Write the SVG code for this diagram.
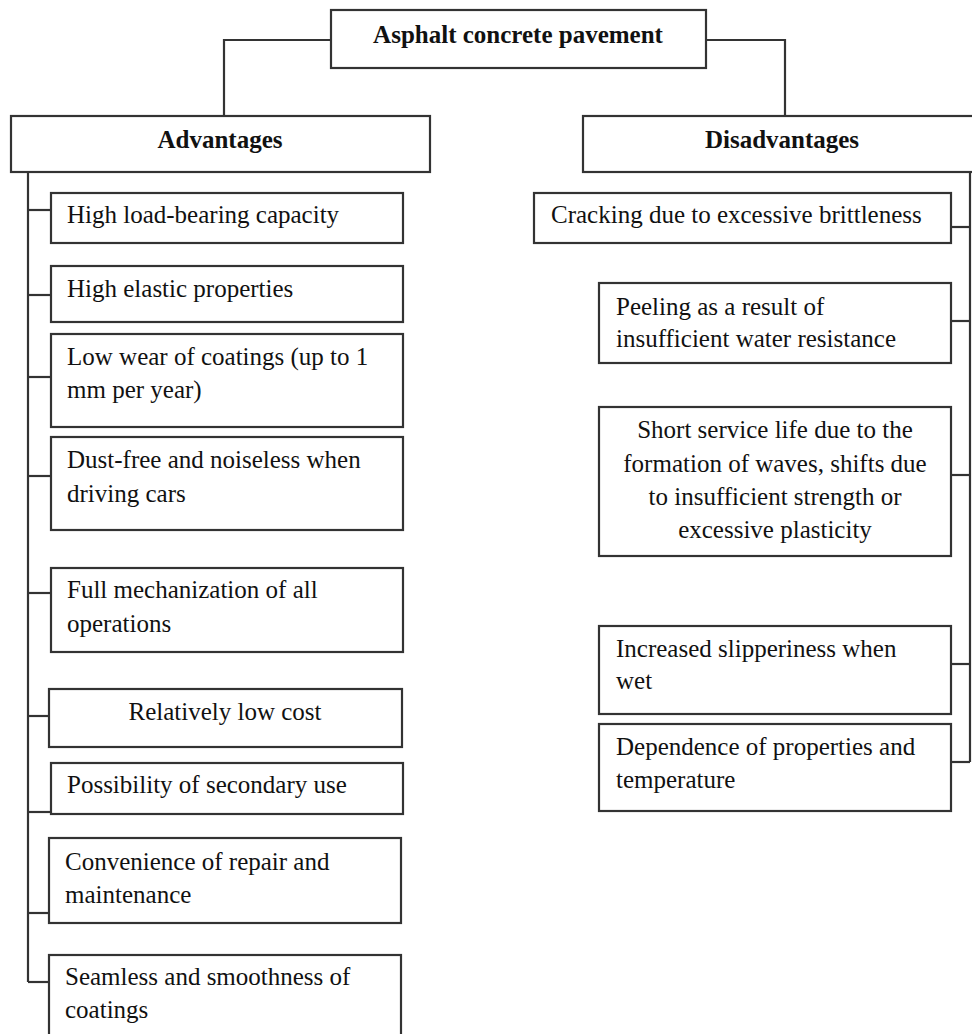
<svg xmlns="http://www.w3.org/2000/svg" width="972" height="1034" viewBox="0 0 972 1034">
<style>
.box{fill:#fff;stroke:#333;stroke-width:2.2}
.ln{fill:none;stroke:#333;stroke-width:2.2}
text{font-family:"Liberation Serif","Times New Roman",serif;font-size:25px;fill:#111}
.b{font-weight:bold}
.c{text-anchor:middle}
</style>
<rect width="972" height="1034" fill="#fff"/>
<g id="connectors">
<polyline class="ln" points="331,40 224,40 224,116"/>
<polyline class="ln" points="706,40 785,40 785,116"/>
<line class="ln" x1="28" y1="172" x2="28" y2="982"/>
<line class="ln" x1="28" y1="210" x2="51" y2="210"/>
<line class="ln" x1="28" y1="295" x2="51" y2="295"/>
<line class="ln" x1="28" y1="377" x2="51" y2="377"/>
<line class="ln" x1="28" y1="476" x2="51" y2="476"/>
<line class="ln" x1="28" y1="593" x2="51" y2="593"/>
<line class="ln" x1="28" y1="716" x2="49" y2="716"/>
<line class="ln" x1="28" y1="812" x2="51" y2="812"/>
<line class="ln" x1="28" y1="913" x2="49" y2="913"/>
<line class="ln" x1="28" y1="982" x2="49" y2="982"/>
<line class="ln" x1="970" y1="172" x2="970" y2="762"/>
<line class="ln" x1="951" y1="227" x2="970" y2="227"/>
<line class="ln" x1="951" y1="321" x2="970" y2="321"/>
<line class="ln" x1="951" y1="475" x2="970" y2="475"/>
<line class="ln" x1="951" y1="664" x2="970" y2="664"/>
<line class="ln" x1="951" y1="762" x2="970" y2="762"/>
</g>
<g id="root"><rect class="box" x="331" y="10" width="375" height="58"/><text class="b c" x="518" y="43">Asphalt concrete pavement</text></g>
<g id="advantages"><rect class="box" x="11" y="116" width="419" height="56"/><text class="b c" x="220" y="148">Advantages</text></g>
<g id="disadvantages"><rect class="box" x="583" y="116" width="400" height="56"/><text class="b c" x="782" y="148">Disadvantages</text></g>

<g id="a1"><rect class="box" x="51" y="193" width="352" height="50"/><text x="67" y="223">High load-bearing capacity</text></g>
<g id="a2"><rect class="box" x="51" y="266" width="352" height="56"/><text x="67" y="297">High elastic properties</text></g>
<g id="a3"><rect class="box" x="51" y="334" width="352" height="93"/><text x="67" y="365">Low wear of coatings (up to 1</text><text x="67" y="398">mm per year)</text></g>
<g id="a4"><rect class="box" x="51" y="437" width="352" height="93"/><text x="67" y="468">Dust-free and noiseless when</text><text x="67" y="502">driving cars</text></g>
<g id="a5"><rect class="box" x="51" y="568" width="352" height="84"/><text x="67" y="598">Full mechanization of all</text><text x="67" y="632">operations</text></g>
<g id="a6"><rect class="box" x="49" y="689" width="353" height="58"/><text class="c" x="225" y="720">Relatively low cost</text></g>
<g id="a7"><rect class="box" x="51" y="763" width="352" height="51"/><text x="67" y="793">Possibility of secondary use</text></g>
<g id="a8"><rect class="box" x="49" y="838" width="352" height="85"/><text x="65" y="870">Convenience of repair and</text><text x="65" y="903">maintenance</text></g>
<g id="a9"><rect class="box" x="49" y="955" width="352" height="90"/><text x="65" y="985">Seamless and smoothness of</text><text x="65" y="1018">coatings</text></g>

<g id="d1"><rect class="box" x="534" y="193" width="417" height="50"/><text x="551" y="223">Cracking due to excessive brittleness</text></g>
<g id="d2"><rect class="box" x="599" y="283" width="352" height="80"/><text x="616" y="315">Peeling as a result of</text><text x="616" y="347">insufficient water resistance</text></g>
<g id="d3"><rect class="box" x="599" y="407" width="352" height="149"/><text class="c" x="775" y="438">Short service life due to the</text><text class="c" x="775" y="472">formation of waves, shifts due</text><text class="c" x="775" y="505">to insufficient strength or</text><text class="c" x="775" y="538">excessive plasticity</text></g>
<g id="d4"><rect class="box" x="599" y="626" width="352" height="88"/><text x="616" y="657">Increased slipperiness when</text><text x="616" y="689">wet</text></g>
<g id="d5"><rect class="box" x="599" y="724" width="352" height="87"/><text x="616" y="755">Dependence of properties and</text><text x="616" y="788">temperature</text></g>
</svg>
